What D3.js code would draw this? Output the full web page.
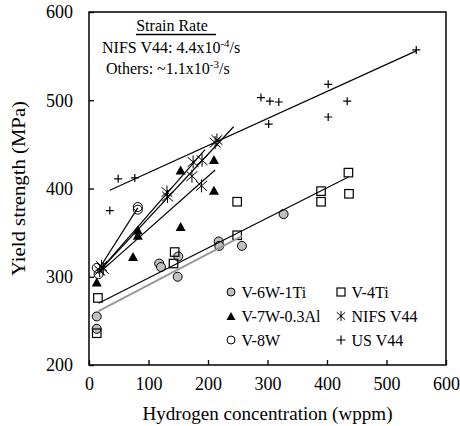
<!DOCTYPE html>
<html>
<head>
<meta charset="utf-8">
<script src="https://cdn.jsdelivr.net/npm/d3@7"></script>
<style>
  body { margin: 0; background: #fff; }
  svg text { font-family: "Liberation Serif", "Times New Roman", serif; fill: #000; }
</style>
</head>
<body>
<div class="container"></div>
<script>
// series data, [hydrogen wppm, yield strength MPa]
var v6w1ti = [[13, 255], [13, 241], [118, 315], [121, 311], [150, 323], [149, 300],
              [218, 340], [219, 335], [257, 335], [327, 371]];
var v4ti = [[15, 276], [13, 236], [144, 328], [142, 315], [249, 385], [249, 347],
            [390, 397], [390, 385], [436, 418], [437, 394]];
var v7w = [[13, 294], [82, 353], [82, 347], [74, 323], [154, 357], [154, 421],
           [210, 433], [210, 398]];
var nifs = [[18, 307], [21, 312], [24, 309], [131, 396], [132, 391], [175, 430],
            [190, 432], [173, 414], [189, 403], [212, 452], [215, 455]];
var v8w = [[13, 310], [16, 303], [82, 379], [82, 376]];
var usv44 = [[35, 375], [49, 411], [77, 412], [289, 503], [304, 499], [319, 498],
             [302, 473], [402, 518], [434, 499], [402, 481], [550, 557]];

// fitted lines, drawn as given: [x1, y1, x2, y2]
var blackLines = [
    [16, 270, 436, 413],   // V-4Ti
    [14, 306, 82, 378],    // V-8W
    [18, 307, 243, 470],   // NIFS V44
    [18, 307, 195, 444],
    [18, 305, 212, 421],
    [35, 398, 550, 556]    // US V44
];
var greyLines = [[16, 261, 257, 346]];  // V-6W-1Ti

var xTicks = [0, 100, 200, 300, 400, 500, 600];
var yTicks = [200, 300, 400, 500, 600];

var width = 460, height = 426;

var svg = d3.select('.container').append('svg')
    .attr('width', width)
    .attr('height', height);

var x = d3.scaleLinear().domain([0, 600]).range([89, 446]);
var y = d3.scaleLinear().domain([200, 600]).range([365, 12]);

// frame
svg.append('rect')
    .attr('x', x(0)).attr('y', y(600))
    .attr('width', x(600) - x(0)).attr('height', y(200) - y(600))
    .attr('fill', 'none').attr('stroke', '#000').attr('stroke-width', 1.5);

var xAxis = svg.append('g')
    .attr('transform', 'translate(0,' + y(200) + ')')
    .call(d3.axisBottom(x).tickValues(xTicks).tickSizeInner(-5).tickSizeOuter(0).tickPadding(12));
var yAxis = svg.append('g')
    .attr('transform', 'translate(' + x(0) + ',0)')
    .call(d3.axisLeft(y).tickValues(yTicks).tickSizeInner(-5).tickSizeOuter(0).tickPadding(16));

[xAxis, yAxis].forEach(function (a) {
    a.select('.domain').remove();
    a.selectAll('line').attr('stroke', '#000').attr('stroke-width', 1.3);
    a.selectAll('text').attr('font-size', '18px')
        .attr('font-family', '"Liberation Serif", serif').attr('fill', '#000');
});

svg.append('text')
    .attr('x', (x(0) + x(600)) / 2).attr('y', 420)
    .attr('text-anchor', 'middle').attr('font-size', '19px')
    .attr('textLength', 250).attr('lengthAdjust', 'spacingAndGlyphs')
    .text('Hydrogen concentration (wppm)');

svg.append('text')
    .attr('transform', 'translate(25,' + (y(200) + y(600)) / 2 + ') rotate(-90)')
    .attr('text-anchor', 'middle').attr('font-size', '18px')
    .attr('textLength', 175).attr('lengthAdjust', 'spacingAndGlyphs')
    .text('Yield strength (MPa)');

// strain rate note
var note = svg.append('g').attr('font-size', '16px');
note.append('text').attr('x', 172).attr('y', 31).attr('text-anchor', 'middle').text('Strain Rate');
note.append('line').attr('x1', 136).attr('x2', 216).attr('y1', 34.5).attr('y2', 34.5)
    .attr('stroke', '#000').attr('stroke-width', 1.5);
var t1 = note.append('text').attr('x', 102).attr('y', 53);
t1.append('tspan').text('NIFS V44: 4.4x10');
t1.append('tspan').attr('dy', -6).attr('font-size', '11px').text('-4');
t1.append('tspan').attr('dy', 6).text('/s');
var t2 = note.append('text').attr('x', 106).attr('y', 74);
t2.append('tspan').text('Others: ~1.1x10');
t2.append('tspan').attr('dy', -6).attr('font-size', '11px').text('-3');
t2.append('tspan').attr('dy', 6).text('/s');

// marker drawing
function drawCircle(g, cx, cy, r, fill) {
    g.append('circle').attr('cx', cx).attr('cy', cy).attr('r', r)
        .attr('fill', fill).attr('stroke', '#000').attr('stroke-width', 1);
}
function drawSquare(g, cx, cy, s) {
    g.append('rect').attr('x', cx - s / 2).attr('y', cy - s / 2).attr('width', s).attr('height', s)
        .attr('fill', 'none').attr('stroke', '#000').attr('stroke-width', 1.2);
}
function drawTriangle(g, cx, cy, s) {
    var h = s * 0.9;
    g.append('path')
        .attr('d', 'M' + cx + ',' + (cy - h / 2) + 'L' + (cx + s / 2) + ',' + (cy + h / 2) + 'L' + (cx - s / 2) + ',' + (cy + h / 2) + 'Z')
        .attr('fill', '#000');
}
function drawStar(g, cx, cy, s) {
    var h = s / 2;
    g.append('path')
        .attr('d', 'M' + cx + ',' + (cy - h) + 'V' + (cy + h) +
            'M' + (cx - h * 0.85) + ',' + (cy - h * 0.75) + 'L' + (cx + h * 0.85) + ',' + (cy + h * 0.75) +
            'M' + (cx + h * 0.85) + ',' + (cy - h * 0.75) + 'L' + (cx - h * 0.85) + ',' + (cy + h * 0.75))
        .attr('stroke', '#000').attr('stroke-width', 1).attr('fill', 'none');
}
function drawPlus(g, cx, cy, s) {
    var h = s / 2;
    g.append('path')
        .attr('d', 'M' + (cx - h) + ',' + cy + 'H' + (cx + h) + 'M' + cx + ',' + (cy - h) + 'V' + (cy + h))
        .attr('stroke', '#000').attr('stroke-width', 1.2).attr('fill', 'none');
}

var marks = svg.append('g');
v6w1ti.forEach(function (d) { drawCircle(marks, x(d[0]), y(d[1]), 4.5, '#c0c0c0'); });
v4ti.forEach(function (d) { drawSquare(marks, x(d[0]), y(d[1]), 8.5); });
v7w.forEach(function (d) { drawTriangle(marks, x(d[0]), y(d[1]), 10); });
nifs.forEach(function (d) { drawStar(marks, x(d[0]), y(d[1]), 13); });
v8w.forEach(function (d) { drawCircle(marks, x(d[0]), y(d[1]), 4.5, 'none'); });
usv44.forEach(function (d) { drawPlus(marks, x(d[0]), y(d[1]), 8); });

// lines on top
svg.append('g').selectAll('line').data(greyLines).enter().append('line')
    .attr('x1', function (d) { return x(d[0]); }).attr('y1', function (d) { return y(d[1]); })
    .attr('x2', function (d) { return x(d[2]); }).attr('y2', function (d) { return y(d[3]); })
    .attr('stroke', '#999').attr('stroke-width', 2);
svg.append('g').selectAll('line').data(blackLines).enter().append('line')
    .attr('x1', function (d) { return x(d[0]); }).attr('y1', function (d) { return y(d[1]); })
    .attr('x2', function (d) { return x(d[2]); }).attr('y2', function (d) { return y(d[3]); })
    .attr('stroke', '#000').attr('stroke-width', 1.2);

// legend
var legendItems = [
    { name: 'V-6W-1Ti', kind: 'grey', col: 0, row: 0 },
    { name: 'V-4Ti', kind: 'square', col: 1, row: 0 },
    { name: 'V-7W-0.3Al', kind: 'tri', col: 0, row: 1 },
    { name: 'NIFS V44', kind: 'star', col: 1, row: 1 },
    { name: 'V-8W', kind: 'open', col: 0, row: 2 },
    { name: 'US V44', kind: 'plus', col: 1, row: 2 }
];
var legend = svg.append('g');
var colX = [231, 341], rowY = [292, 316, 340];
legendItems.forEach(function (it) {
    var cx = colX[it.col], cy = rowY[it.row];
    if (it.kind == 'grey') drawCircle(legend, cx, cy, 4, '#c0c0c0');
    if (it.kind == 'open') drawCircle(legend, cx, cy, 4, 'none');
    if (it.kind == 'square') drawSquare(legend, cx, cy, 8);
    if (it.kind == 'tri') drawTriangle(legend, cx, cy, 9);
    if (it.kind == 'star') drawStar(legend, cx, cy, 10);
    if (it.kind == 'plus') drawPlus(legend, cx, cy, 9);
    legend.append('text').attr('x', cx + 10.5).attr('y', cy + 5.5)
        .attr('font-size', '16px').text(it.name);
});
</script>
</body>
</html>
